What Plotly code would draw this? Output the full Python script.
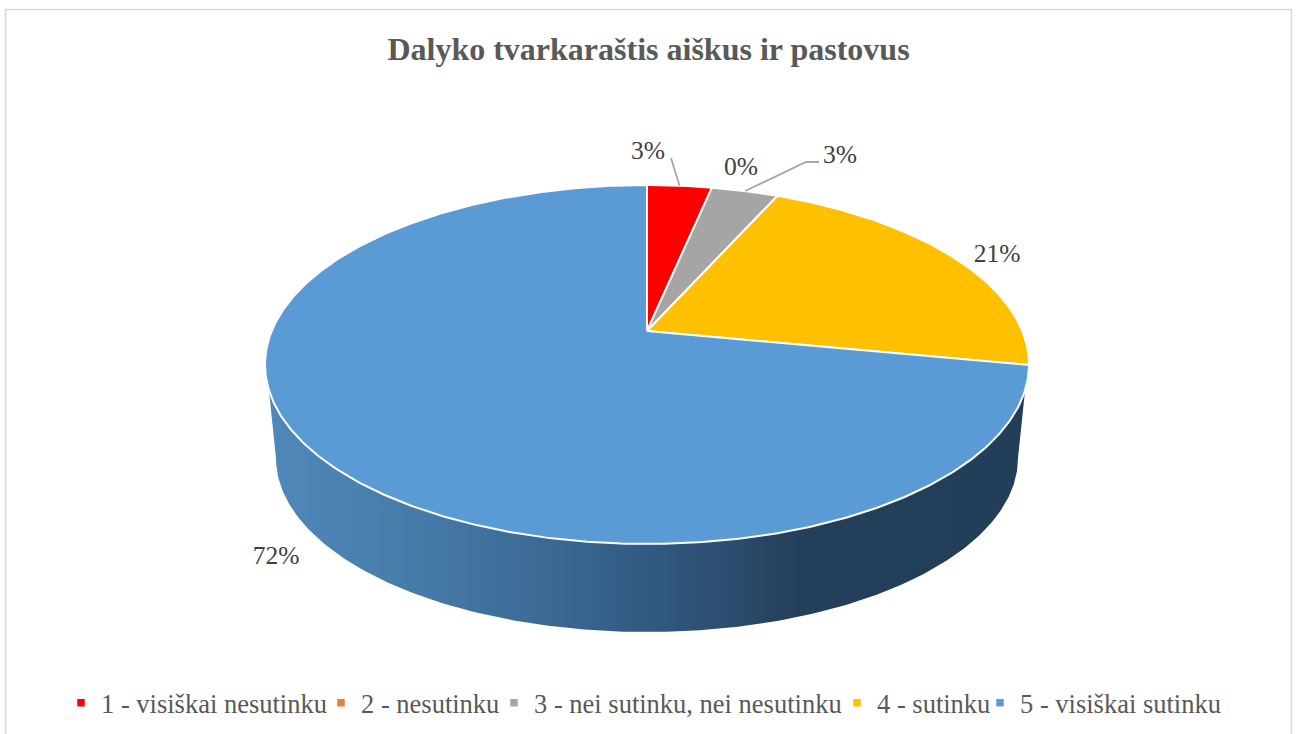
import math
import plotly.graph_objects as go

title = "Dalyko tvarkaraštis aiškus ir pastovus"
categories = ["1 - visiškai nesutinku", "2 - nesutinku", "3 - nei sutinku, nei nesutinku", "4 - sutinku", "5 - visiškai sutinku"]
values = [3.28, 0, 3.39, 21.36, 71.97]
colors = ["#FF0000", "#ED7D31", "#A5A5A5", "#FFC000", "#5B9BD5"]

# side-wall shading: fraction across the pie -> colour
wall_stops = [0.0, 0.2, 0.45, 0.6, 0.7, 1.0]
wall_colors = ["#4F88BA", "#467BA8", "#35608A", "#2C4E70", "#243F59", "#233E58"]

# label centre positions
label_pos = [(648, 153), (741, 169), (840, 157), (997, 256), (276, 558)]
# left edge of each legend entry's box
legend_left = [55, 315, 488, 831, 974]

W, H = 1299, 734
APEX_X, APEX_Y = 647, 331
TOP_CX, TOP_CY, TOP_RX, TOP_RY = 647, 364.5, 382, 179.5
BOT_CX, BOT_CY, BOT_RX, BOT_RY = 647, 458, 371, 174
TILT = 0.1866
A, B = 375.3, 173.2
SIL_Y = 389


def rim(frac):
    t = 2 * math.pi * frac
    X, Y = math.sin(t), math.cos(t)
    d = 1 + TILT * Y
    return APEX_X + A * X / d, APEX_Y - B * Y / d


fig = go.Figure()

# side wall: one polygon with a horizontal gradient
half = TOP_RX * math.sqrt(1 - ((SIL_Y - TOP_CY) / TOP_RY) ** 2)
x_left, x_right = TOP_CX - half, TOP_CX + half
n = 240
a0 = math.asin((SIL_Y - TOP_CY) / TOP_RY)
wall_x, wall_y = [], []
for k in range(n + 1):  # along the top face, left to right
    a = math.pi - a0 - (math.pi - 2 * a0) * k / n
    wall_x.append(TOP_CX + TOP_RX * math.cos(a))
    wall_y.append(TOP_CY + TOP_RY * math.sin(a) - 2)
for k in range(n + 1):  # back along the lower rim, right to left
    a = math.pi * k / n
    wall_x.append(BOT_CX + BOT_RX * math.cos(a))
    wall_y.append(BOT_CY + BOT_RY * math.sin(a))
wall_x.append(wall_x[0])
wall_y.append(wall_y[0])
fig.add_trace(go.Scatter(
    x=wall_x, y=wall_y, mode="lines", fill="toself", line=dict(width=0),
    fillgradient=dict(type="horizontal", start=x_left, stop=x_right,
                      colorscale=[[s, c] for s, c in zip(wall_stops, wall_colors)]),
    hoverinfo="skip", showlegend=False))

# top face
total = sum(values)
cum = 0
mids = []
for name, v, c in zip(categories, values, colors):
    start, end = cum / total, (cum + v) / total
    cum += v
    mids.append((start + end) / 2)
    if v == 0:
        continue
    m = max(6, int(v * 6))
    arc = [rim(start + (end - start) * k / m) for k in range(m + 1)]
    xs = [APEX_X] + [p[0] for p in arc] + [APEX_X]
    ys = [APEX_Y] + [p[1] for p in arc] + [APEX_Y]
    fig.add_trace(go.Scatter(x=xs, y=ys, mode="lines", fill="toself", fillcolor=c,
                             line=dict(color="white", width=2), name=name,
                             hoverinfo="name", showlegend=False))

# leader lines
rx, ry = rim(mids[0])
fig.add_trace(go.Scatter(x=[rx, 671], y=[ry, 158], mode="lines", line=dict(color="#A6A6A6", width=1.8),
                         hoverinfo="skip", showlegend=False))
rx, ry = rim(mids[2])
fig.add_trace(go.Scatter(x=[rx, 806, 819], y=[ry, 162, 162], mode="lines", line=dict(color="#A6A6A6", width=1.8),
                         hoverinfo="skip", showlegend=False))

# percentage labels
fig.add_trace(go.Scatter(x=[p[0] for p in label_pos], y=[p[1] for p in label_pos], mode="text",
                         text=["%d%%" % round(v / total * 100) for v in values],
                         textposition="middle center",
                         textfont=dict(family="Liberation Serif", size=25.5, color="#404040"),
                         hoverinfo="skip", showlegend=False))

# legend entries: one small legend per entry, so each sits at its own spot
legend_layout = {}
for i, (name, c, lx) in enumerate(zip(categories, colors, legend_left)):
    key = "legend" if i == 0 else "legend%d" % (i + 1)
    fig.add_trace(go.Scatter(x=[None], y=[None], mode="markers", name=name, legend=key,
                             marker=dict(symbol="square", size=7.5, color=c)))
    legend_layout[key] = dict(orientation="h", x=lx / W, xanchor="left", y=1 - 703 / H, yanchor="middle",
                              font=dict(family="Liberation Serif", size=26.5, color="#595959"),
                              indentation=6,
                              bgcolor="rgba(0,0,0,0)", itemclick=False, itemdoubleclick=False)

# open frame (bottom edge runs off the picture)
fig.add_shape(type="rect", x0=5.5, x1=1291.5, y0=9.5, y1=745, line=dict(color="#D9D9D9", width=1.6),
              layer="below")

fig.update_layout(
    width=W, height=H, margin=dict(l=0, r=0, t=0, b=0),
    paper_bgcolor="white", plot_bgcolor="white",
    xaxis=dict(range=[0, W], visible=False, fixedrange=True),
    yaxis=dict(range=[H, 0], visible=False, fixedrange=True),
    title=dict(text="<b>%s</b>" % title, x=648.5 / W, xanchor="center", y=1 - 49 / H, yanchor="middle",
               font=dict(family="Liberation Serif", size=32, color="#595959")),
    showlegend=True,
    **legend_layout,
)

fig.write_html("out.html", config={"displayModeBar": False}, post_script="document.body.style.margin='0';")
